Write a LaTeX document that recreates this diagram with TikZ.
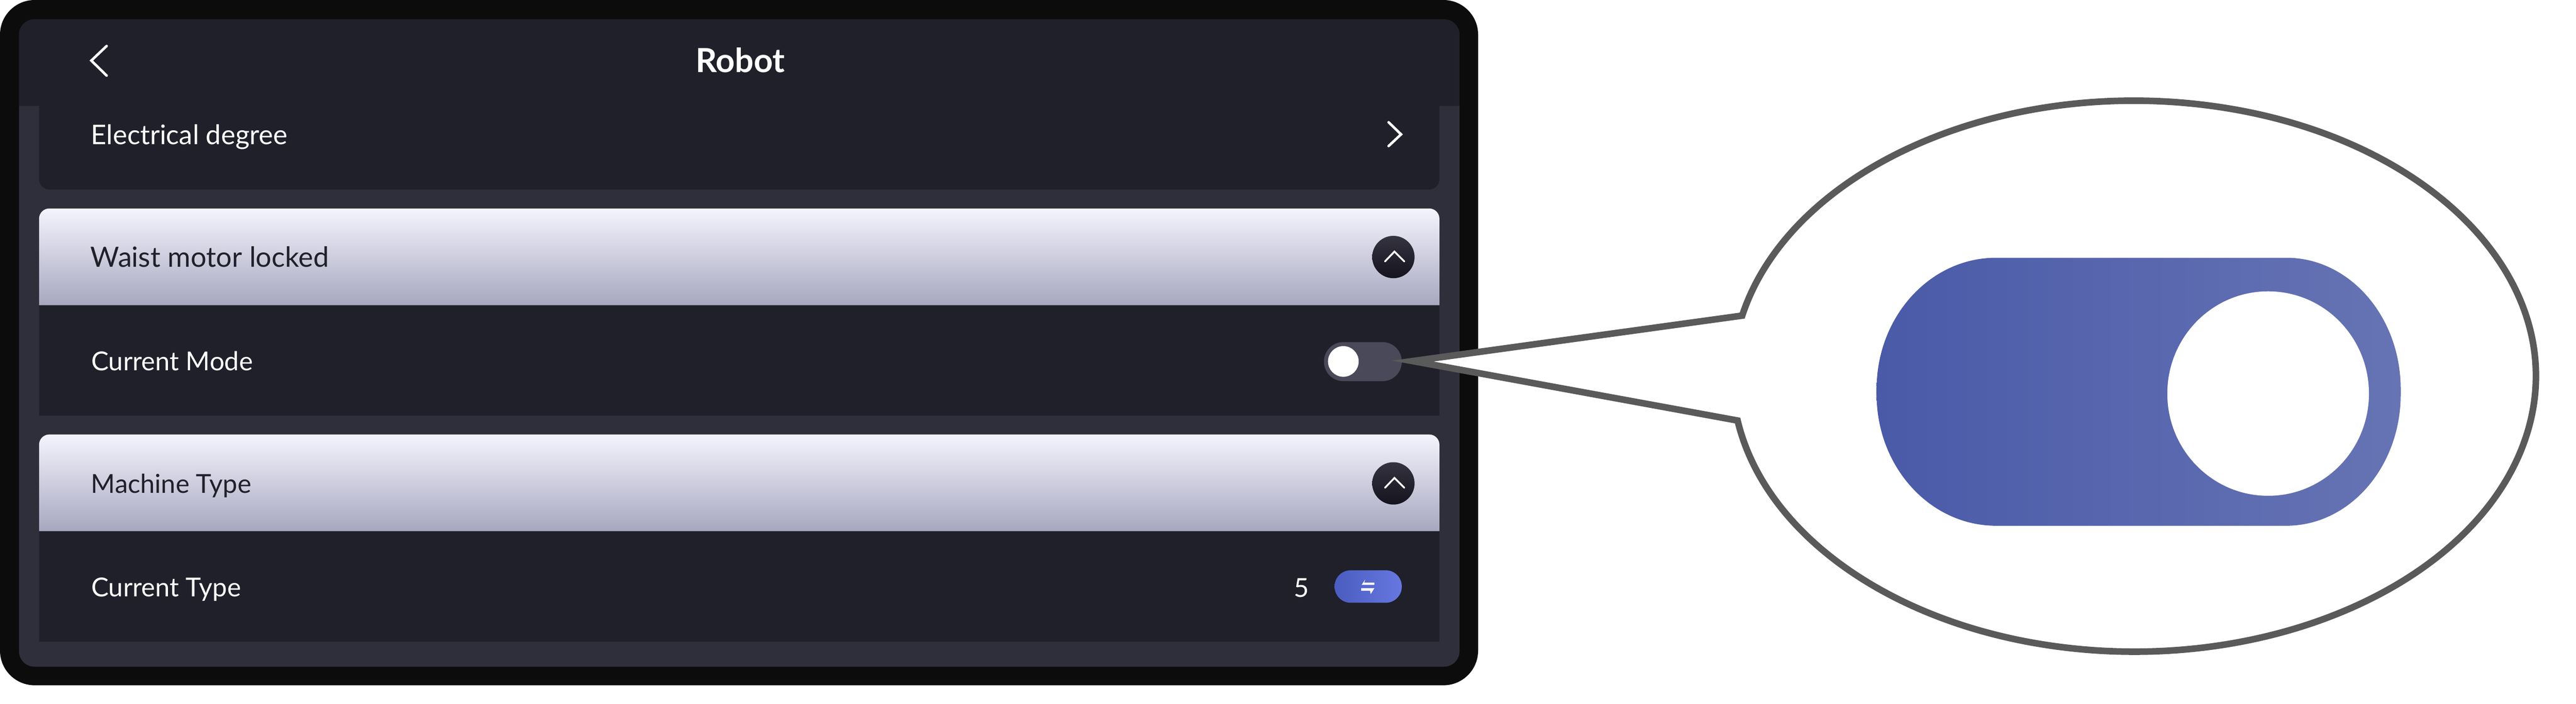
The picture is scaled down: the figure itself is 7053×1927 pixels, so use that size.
\documentclass[tikz,border=0pt]{standalone}
\usepackage{fontspec}
\setmainfont{Lato}
\definecolor{shell}{HTML}{0C0C0C}
\definecolor{screenbg}{HTML}{2F2E3B}
\definecolor{cardbg}{HTML}{1F2029}
\definecolor{headtop}{HTML}{F4F4FE}
\definecolor{headbot}{HTML}{A7A7BF}
\definecolor{knobtop}{HTML}{34333F}
\definecolor{knobbot}{HTML}{14131E}
\definecolor{togglebg}{HTML}{4A4959}
\definecolor{calloutline}{HTML}{5A5A5A}
\definecolor{smalllow}{HTML}{4B5CC0}
\definecolor{smallhigh}{HTML}{6678E0}
\definecolor{biglow}{HTML}{4A5AA8}
\definecolor{bighigh}{HTML}{6674B4}
\tikzset{
  rowtext/.style={anchor=base west,inner sep=0pt,text=white,font=\fontsize{71.5}{86}\selectfont},
  headtext/.style={rowtext,text=cardbg},
  titletext/.style={anchor=base,inner sep=0pt,text=white,font=\fontsize{91}{110}\selectfont\bfseries},
  chevron/.style={draw=white,line width=7pt,line cap=round,line join=miter},
  headband/.style={top color=headtop,bottom color=headbot},
  knob/.style={top color=knobtop,bottom color=knobbot},
}
\begin{document}
\begin{tikzpicture}[x=1pt,y=-1pt]
\useasboundingbox (0,0) rectangle (7053,1927);
% device
\fill[shell,rounded corners=95pt] (0,0) rectangle (4047,1877);
\fill[screenbg,rounded corners=42pt] (52,53) rectangle (3996,1826);
\fill[cardbg] (52,290) [rounded corners=42pt] -- (52,53) -- (3996,53) [sharp corners] -- (3996,290) -- cycle;
% first card
\fill[cardbg] (107,280) [rounded corners=28pt] -- (107,519) -- (3941,519) [sharp corners] -- (3941,280) -- cycle;
% second card
\fill[cardbg] (107,800) rectangle (3941,1139);
\shade[headband] (107,836) [rounded corners=28pt] -- (107,571) -- (3941,571) [sharp corners] -- (3941,836) -- cycle;
% third card
\fill[cardbg] (107,1420) rectangle (3941,1758);
\shade[headband] (107,1455) [rounded corners=28pt] -- (107,1190) -- (3941,1190) [sharp corners] -- (3941,1455) -- cycle;
% header
\draw[chevron] (292,126) -- (250,166) -- (292,207);
\node[titletext] (title) at (2027,198) {Robot};
% rows
\node[rowtext,font=\fontsize{74.2}{90}\selectfont] (elec) at (249,395) {Electrical degree};
\draw[chevron] (3802,335) -- (3836,368) -- (3802,400);
\node[headtext,font=\fontsize{76.4}{92}\selectfont] (waist) at (248,732) {Waist motor locked};
\shade[knob] (3815,704) circle[radius=58pt];
\draw[chevron,line width=5pt] (3792,716) -- (3818,689) -- (3845,716);
\node[rowtext] (mode) at (250,1015) {Current Mode};
\fill[togglebg,rounded corners=53pt] (3625,937) rectangle (3838,1044);
\fill[white] (3678,990) circle[radius=42pt];
\node[headtext] (machine) at (249,1351) {Machine Type};
\shade[knob] (3815,1324) circle[radius=58pt];
\draw[chevron,line width=5pt] (3792,1336) -- (3818,1309) -- (3845,1336);
\node[rowtext] (ctype) at (250,1634) {Current Type};
\node[rowtext,anchor=base] (five) at (3564,1636) {5};
\shade[left color=smalllow,right color=smallhigh,rounded corners=44pt] (3654,1562) rectangle (3838,1651);
\fill[white] (3763,1596) -- (3735,1596) -- (3738,1587) -- (3728,1602) -- (3763,1602) -- cycle;
\fill[white] (3727,1611) -- (3763,1611) -- (3753,1627) -- (3751,1618) -- (3727,1618) -- cycle;
% callout
\coordinate (tip) at (3868,989);
\draw[calloutline,fill=white,line width=18pt,line join=miter,miter limit=12]
  (tip) -- (4770,864.5) arc[start angle=167.3,end angle=-170.73,x radius=1100pt,y radius=754.5pt] -- cycle;
% enlarged toggle
\shade[left color=biglow,right color=bighigh]
  (5465,706) -- (6260,706) arc[start angle=90,end angle=0,x radius=313pt,y radius=360pt]
  -- (6573,1080) arc[start angle=0,end angle=-90,x radius=313pt,y radius=360pt]
  -- (5465,1440) arc[start angle=270,end angle=180,x radius=327pt,y radius=360pt]
  -- (5138,1066) arc[start angle=180,end angle=90,x radius=327pt,y radius=360pt] -- cycle;
\fill[white] (6210,1078) circle[x radius=276pt,y radius=280pt];
\end{tikzpicture}
\end{document}
